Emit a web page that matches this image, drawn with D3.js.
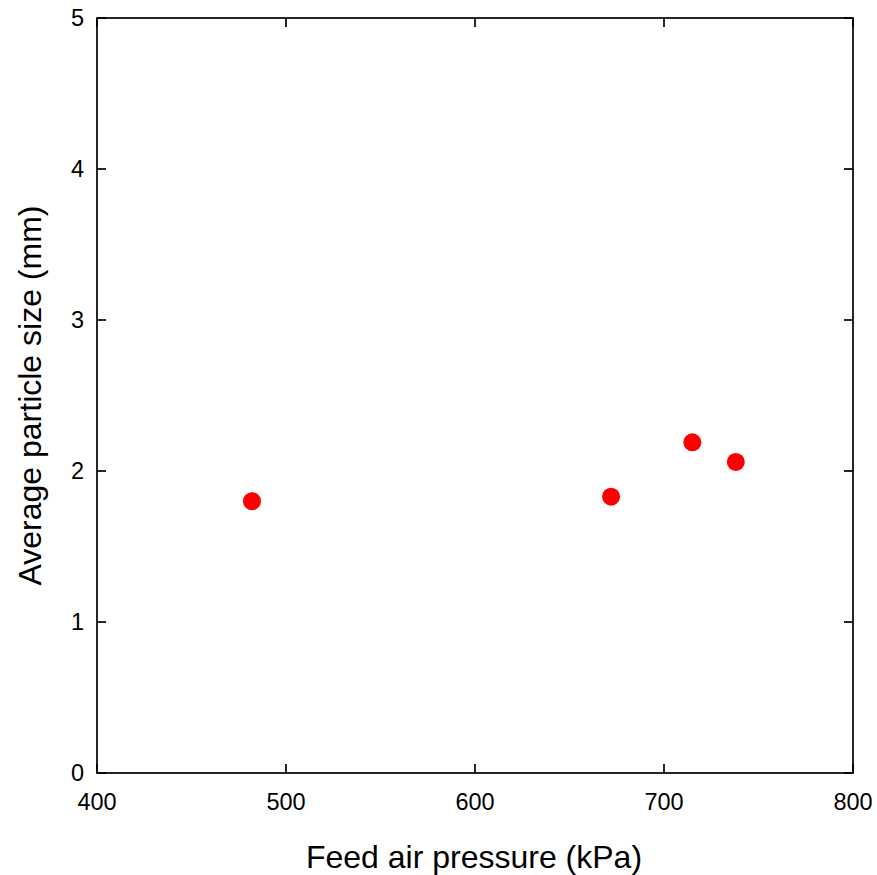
<!DOCTYPE html>
<html><head><meta charset="utf-8">
<script src="https://cdn.jsdelivr.net/npm/d3@7"></script>
<style>body{margin:0;background:#fff}svg{display:block}text{font-family:"Liberation Sans",Arial,sans-serif}</style>
</head><body>
<svg id="c" width="877" height="875"></svg>
<script>
const pressure = [482, 672, 715, 738];
const particleSize = [1.80, 1.83, 2.19, 2.06];
const xTicks = [400, 500, 600, 700, 800];
const yTicks = [0, 1, 2, 3, 4, 5];

const svg = d3.select("#c");
const L = 97, R = 853, T = 18, B = 773;
const x = d3.scaleLinear().domain([400, 800]).range([L, R]);
const y = d3.scaleLinear().domain([0, 5]).range([B, T]);
const tl = 9;

const g = svg.append("g").attr("stroke", "#000").attr("stroke-width", 1.7);
xTicks.forEach(t => {
  g.append("line").attr("x1", x(t)).attr("x2", x(t)).attr("y1", B).attr("y2", B - tl);
  g.append("line").attr("x1", x(t)).attr("x2", x(t)).attr("y1", T).attr("y2", T + tl);
});
yTicks.forEach(t => {
  g.append("line").attr("x1", L).attr("x2", L + tl).attr("y1", y(t)).attr("y2", y(t));
  g.append("line").attr("x1", R).attr("x2", R - tl).attr("y1", y(t)).attr("y2", y(t));
});
g.append("rect").attr("x", L).attr("y", T).attr("width", R - L).attr("height", B - T).attr("fill", "none");

svg.selectAll(".xl").data(xTicks).enter().append("text")
  .attr("x", d => x(d)).attr("y", B + 36.5).attr("text-anchor", "middle")
  .attr("font-size", 23.5).text(d => d);
svg.selectAll(".yl").data(yTicks).enter().append("text")
  .attr("x", L - 13).attr("y", d => y(d) + 8.4).attr("text-anchor", "end")
  .attr("font-size", 23.5).text(d => d);

svg.append("text").attr("x", (L + R) / 2 - 1).attr("y", 868).attr("text-anchor", "middle")
  .attr("font-size", 32).text("Feed air pressure (kPa)");
svg.append("text").attr("transform", `translate(41,${(T + B) / 2}) rotate(-90)`)
  .attr("text-anchor", "middle").attr("font-size", 32).text("Average particle size (mm)");

svg.selectAll("circle").data(pressure).enter().append("circle")
  .attr("cx", d => x(d)).attr("cy", (d, i) => y(particleSize[i])).attr("r", 9)
  .attr("fill", "#ff0000");
</script>
</body></html>
